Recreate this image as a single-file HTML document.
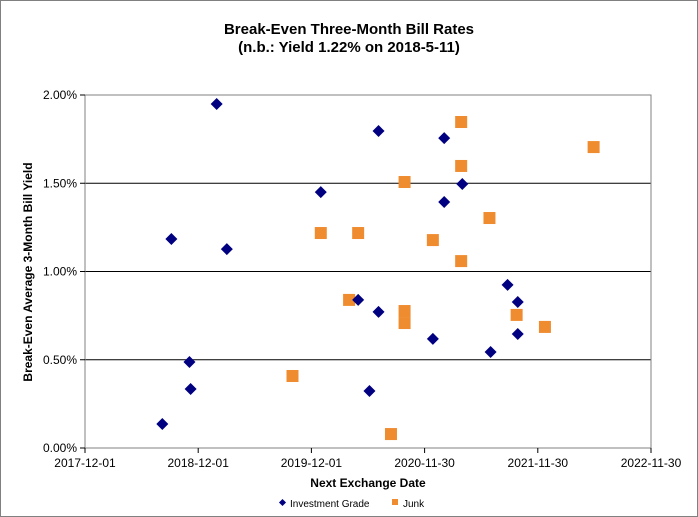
<!DOCTYPE html>
<html><head><meta charset="utf-8"><style>
body{margin:0;background:#fff;}
svg{font-family:"Liberation Sans",Arial,sans-serif;display:block}
</style></head><body>
<svg id="chart" width="698" height="517">
<rect x="0.5" y="0.5" width="697" height="516" fill="#fff" stroke="#808080"/>
<text x="349" y="34" text-anchor="middle" font-size="15" font-weight="bold">Break-Even Three-Month Bill Rates</text>
<text x="349" y="52" text-anchor="middle" font-size="15" font-weight="bold">(n.b.: Yield 1.22% on 2018-5-11)</text>
<g id="grid"></g>
<rect x="85" y="95" width="566" height="353" fill="none" stroke="#808080"/>
<g id="axes"></g>
<g id="marks"></g>
<text x="368" y="487" text-anchor="middle" font-size="12" font-weight="bold">Next Exchange Date</text>
<text transform="translate(32,272) rotate(-90)" text-anchor="middle" font-size="12" font-weight="bold">Break-Even Average 3-Month Bill Yield</text>
<g>
<rect x="280" y="500" width="5" height="5" fill="#000080" transform="rotate(45 282.5 502.5)"/>
<text x="290" y="507" font-size="10">Investment Grade</text>
<rect x="392" y="499" width="6" height="6" fill="#F08C30"/>
<text x="403" y="507" font-size="10">Junk</text>
</g>
</svg>
<script>
const xTickLabels=["2017-12-01","2018-12-01","2019-12-01","2020-11-30","2021-11-30","2022-11-30"];
const xTickValues=[2017.917,2018.917,2019.917,2020.917,2021.917,2022.917];
const yTickValues=[0,0.5,1.0,1.5,2.0];
const yTickLabels=["0.00%","0.50%","1.00%","1.50%","2.00%"];
const igX=[2018.60,2018.68,2018.84,2018.85,2019.08,2019.17,2020.00,2020.33,2020.43,2020.51,2020.51,2020.99,2021.09,2021.09,2021.25,2021.50,2021.65,2021.74,2021.74];
const igY=[0.136,1.184,0.487,0.334,1.949,1.127,1.450,0.839,0.323,1.796,0.771,0.618,1.756,1.394,1.496,0.544,0.924,0.827,0.646];
const junkX=[2019.75,2020.00,2020.25,2020.33,2020.62,2020.74,2020.74,2020.74,2020.99,2021.24,2021.24,2021.24,2021.49,2021.73,2021.98,2022.41];
const junkY=[0.408,1.218,0.839,1.218,0.079,1.507,0.776,0.708,1.178,1.847,1.598,1.059,1.303,0.754,0.686,1.705];
const NS="http://www.w3.org/2000/svg";
const xs=v=>85+(v-2017.917)*113.2;
const ys=v=>448-v*176.5;
function mk(tag,attrs,parent){const e=document.createElementNS(NS,tag);for(const k in attrs)e.setAttribute(k,attrs[k]);document.getElementById(parent).appendChild(e);return e;}
yTickValues.forEach((v,i)=>{
  if(v>0&&v<2){const l=mk('line',{x1:85,x2:651,y1:ys(v),y2:ys(v),stroke:'#000'},'grid');
  
  }
  const t=mk('line',{x1:80,x2:85,y1:ys(v),y2:ys(v),stroke:'#000'},'axes');
  
  
  const tx=mk('text',{x:77,y:ys(v)+4,'text-anchor':'end','font-size':12},'axes');tx.textContent=yTickLabels[i];
  
  
});
xTickValues.forEach((v,i)=>{
  const t=mk('line',{x1:xs(v),x2:xs(v),y1:448,y2:453,stroke:'#000'},'axes');
  
  
  const tx=mk('text',{x:xs(v),y:467,'text-anchor':'middle','font-size':12},'axes');tx.textContent=xTickLabels[i];
  
  
});
junkX.forEach((v,i)=>{
  const r=mk('rect',{x:xs(v)-6,y:ys(junkY[i])-6,width:12,height:12,fill:'#F08C30'},'marks');
  
  
});
igX.forEach((v,i)=>{
  const cx=xs(v),cy=ys(igY[i]);
  const p=mk('polygon',{points:`${cx},${cy-6} ${cx+6},${cy} ${cx},${cy+6} ${cx-6},${cy}`,fill:'#000080'},'marks');
  
  
});
</script>
</body></html>
